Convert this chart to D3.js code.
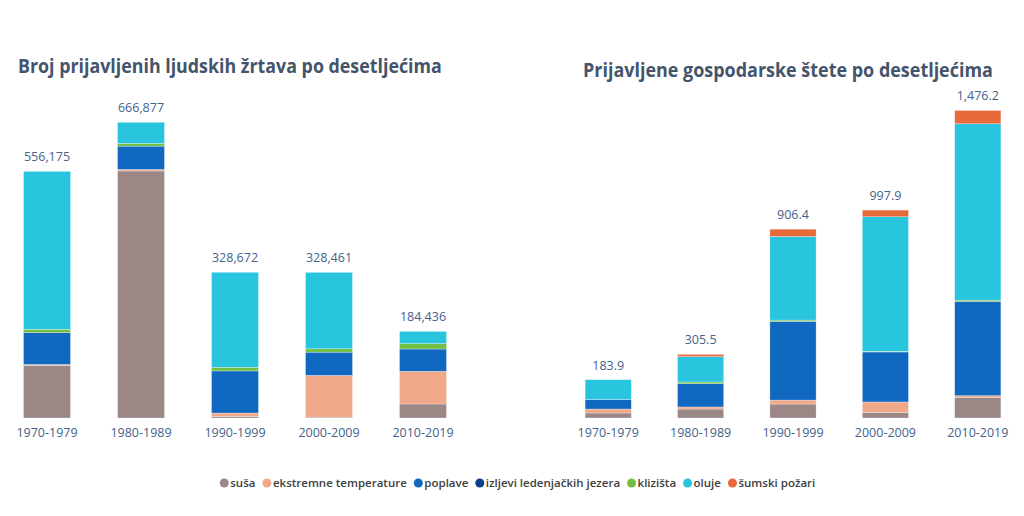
<!DOCTYPE html>
<html>
<head>
<meta charset="utf-8">
<script src="https://cdn.jsdelivr.net/npm/d3@7"></script>
<style>
  body { margin: 0; background: #fff; }
  svg { display: block; }
</style>
</head>
<body>
<svg id="chart" width="1024" height="516"></svg>
<script>
// decades on the x axis of both panels
const decades = ["1970-1979", "1980-1989", "1990-1999", "2000-2009", "2010-2019"];
const hazards = ["suša", "ekstremne temperature", "poplave", "izljevi ledenjačkih jezera", "klizišta", "oluje", "šumski požari"];
const hazardColors = ["#9a8786", "#f0a888", "#1068c0", "#0d3f8c", "#72bf44", "#29c5de", "#e8693a"];

// reported deaths per decade
const deathsSusa     = [118600, 557000, 3700, 2000, 31600];
const deathsTemp     = [2000, 3500, 7500, 94000, 73700];
const deathsPoplave  = [72000, 52600, 95000, 52500, 50300];
const deathsIzljevi  = [0, 0, 0, 0, 0];
const deathsKlizista = [7500, 6000, 8000, 7500, 12000];
const deathsOluje    = [356075, 47777, 214472, 172461, 27700];
const deathsPozari   = [0, 0, 0, 0, 0];
const deathsTotals   = [556175, 666877, 328672, 328461, 184436];

// reported economic losses per decade (US$ billion)
const lossSusa     = [24, 43, 67, 27, 99];
const lossTemp     = [19, 10, 19, 50, 8];
const lossPoplave  = [46, 112, 378, 240, 453];
const lossIzljevi  = [0, 0, 0, 0, 0];
const lossKlizista = [0, 8, 6, 3, 6];
const lossOluje    = [94.9, 121.5, 401.4, 645.9, 846.2];
const lossPozari   = [0, 11, 35, 32, 64];
const lossTotals   = [183.9, 305.5, 906.4, 997.9, 1476.2];

const svg = d3.select("#chart");
const font = "'Open Sans', 'DejaVu Sans', sans-serif";

function buildRows(series) {
    return decades.map((dec, i) => {
        const row = { decade: dec };
        hazards.forEach((h, k) => { row[h] = series[k][i]; });
        return row;
    });
}

function drawPanel(cfg) {
    const g = svg.append("g");
    const rows = buildRows(cfg.series);

    const x = d3.scaleBand()
        .domain(decades)
        .range(cfg.xRange)
        .paddingInner(0.5)
        .paddingOuter(0.25);

    const y = d3.scaleLinear()
        .domain([0, cfg.yMax])
        .range([418, 418 - cfg.yMax / cfg.perPx]);

    const stacked = d3.stack().keys(hazards)(rows);

    g.append("g")
        .selectAll("g")
        .data(stacked)
        .enter().append("g")
        .attr("fill", (d, i) => hazardColors[i])
        .selectAll("rect")
        .data(d => d)
        .enter().append("rect")
        .attr("x", d => x(d.data.decade))
        .attr("width", x.bandwidth())
        .attr("y", d => y(d[1]))
        .attr("height", d => y(d[0]) - y(d[1]))
        .attr("stroke", "#fff")
        .attr("stroke-width", 0.5)
        .attr("stroke-opacity", 0.6);

    g.append("g")
        .selectAll("text")
        .data(cfg.totals)
        .enter().append("text")
        .attr("x", (d, i) => x(decades[i]) + x.bandwidth() / 2)
        .attr("y", (d, i) => y(Math.max(d, d3.sum(cfg.series, s => s[i]))) - 10)
        .attr("text-anchor", "middle")
        .attr("font-family", font)
        .attr("font-size", 12.5)
        .attr("fill", "#44628a")
        .text(d => cfg.format(d));

    const axis = g.append("g")
        .attr("transform", "translate(0,418)")
        .call(d3.axisBottom(x).tickSize(0).tickPadding(10));
    axis.select(".domain").remove();
    axis.selectAll("text")
        .attr("font-family", font)
        .attr("font-size", 12.5)
        .attr("fill", "#44628a");

    // title squeezed horizontally to the width of the narrower original face
    const title = g.append("text")
        .attr("font-family", font)
        .attr("font-weight", 700)
        .attr("font-size", 20)
        .attr("fill", "#44546a")
        .text(cfg.title);
    const sx = cfg.titleWidth / title.node().getComputedTextLength();
    title.attr("transform", `translate(${cfg.titleX},${cfg.titleY}) scale(${sx},1)`);
}

drawPanel({
    title: "Broj prijavljenih ljudskih žrtava po desetljećima",
    titleX: 18, titleY: 73, titleWidth: 424,
    series: [deathsSusa, deathsTemp, deathsPoplave, deathsIzljevi, deathsKlizista, deathsOluje, deathsPozari],
    totals: deathsTotals,
    format: d3.format(","),
    xRange: [0, 470],
    yMax: 700000,
    perPx: 2255
});

drawPanel({
    title: "Prijavljene gospodarske štete po desetljećima",
    titleX: 583, titleY: 77, titleWidth: 410,
    series: [lossSusa, lossTemp, lossPoplave, lossIzljevi, lossKlizista, lossOluje, lossPozari],
    totals: lossTotals,
    format: d3.format(",.1f"),
    xRange: [562, 1024],
    yMax: 1500,
    perPx: 4.8
});

// legend, laid out by measured text widths and centred
const legend = svg.append("g");
const items = legend.selectAll("g")
    .data(hazards)
    .enter().append("g");
items.append("circle")
    .attr("r", 4.5)
    .attr("cy", 0)
    .attr("fill", (d, i) => hazardColors[i]);
items.append("text")
    .attr("x", 6)
    .attr("dy", "0.35em")
    .attr("font-family", font)
    .attr("font-weight", 600)
    .attr("font-size", 11.5)
    .attr("fill", "#404040")
    .text(d => d);

let cursor = 0;
items.each(function () {
    const w = d3.select(this).select("text").node().getComputedTextLength();
    d3.select(this).attr("transform", `translate(${cursor + 4.5},0)`);
    cursor += 4.5 + 6 + w + 7;
});
legend.attr("transform", `translate(${521 - cursor / 2},483)`);
</script>
</body>
</html>
